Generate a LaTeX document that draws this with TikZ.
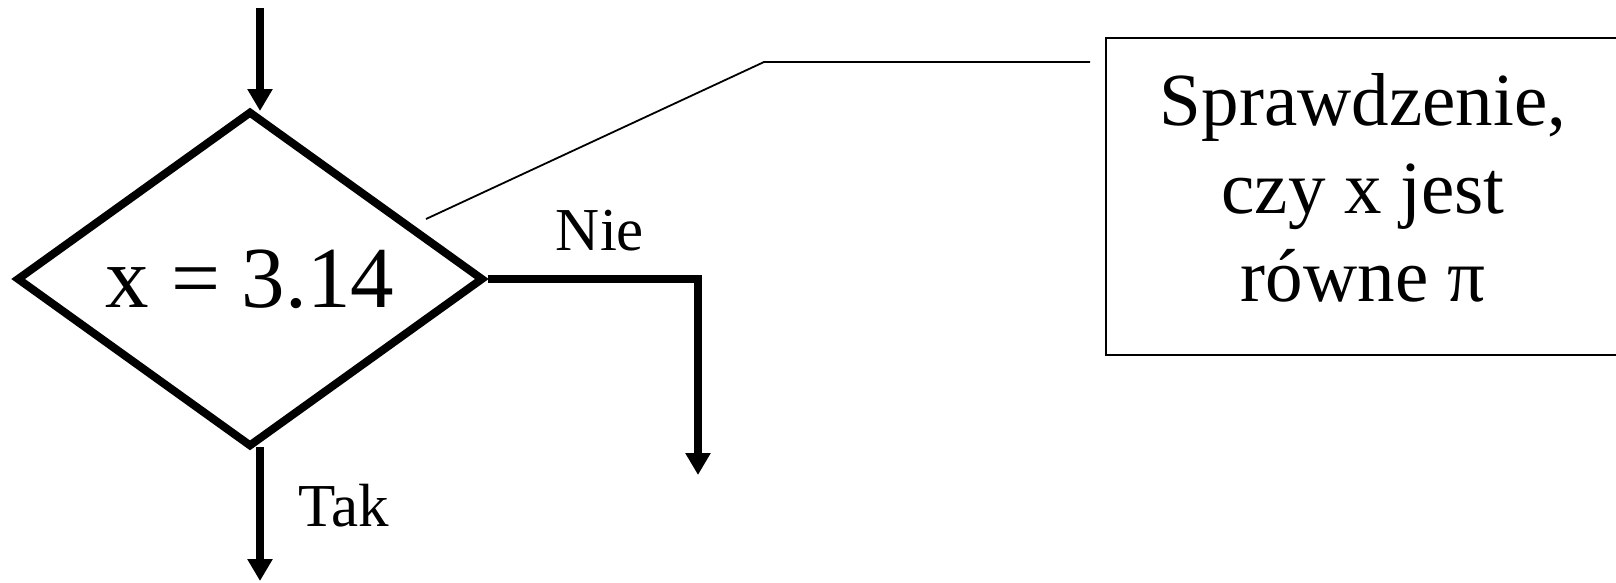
\documentclass[tikz,border=0pt]{standalone}
\usepackage{fontspec}
\setmainfont{Liberation Serif}
\usetikzlibrary{shapes.geometric,arrows.meta}
\tikzset{
  flowarrow/.style={line width=8pt,-{Triangle[length=22pt,width=24pt]}},
  thinline/.style={line width=1.8pt},
  textfont/.style={inner sep=0pt,font=\fontsize{#1}{1.19*#1}\selectfont},
}
\begin{document}
\begin{tikzpicture}[x=1pt,y=-1pt]
\useasboundingbox (0,0) rectangle (1616,582);
\clip (0,0) rectangle (1616,582);
\node[diamond, draw, line width=8pt, aspect=1.39, inner sep=0pt,
      minimum width=467pt, minimum height=336pt,
      font=\fontsize{87}{90}\selectfont] (dec) at (250,279) {x = 3.14};
\coordinate (in) at (260,8);
\coordinate (intip) at (260,111);
\coordinate (outyes) at (260,447);
\coordinate (yestip) at (260,581);
\coordinate (nocorner) at (698,279);
\coordinate (notip) at (698,475);
\draw[flowarrow] (in) -- (intip);
\draw[flowarrow] (outyes) -- (yestip);
\draw[flowarrow] (dec.east) -- (nocorner) -- (notip);
\node[anchor=base, font=\fontsize{61}{66}\selectfont, inner sep=0pt] (nie) at (600,250) {Nie};
\node[anchor=base, font=\fontsize{61}{66}\selectfont, inner sep=0pt] (tak) at (344,526) {Tak};
\node[draw, thinline, rectangle, minimum width=514pt, minimum height=317pt, inner sep=0pt] (box) at (1363,196.5) {};
\node[align=center, inner sep=0pt, font=\fontsize{75}{88}\selectfont] (boxtext) at (1363,188) {Sprawdzenie,\\czy x jest\\równe π};
\coordinate (cs) at (426,219);
\coordinate (cb) at (764,62);
\coordinate (ce) at (1090,62);
\draw[thinline] (cs) -- (cb) -- (ce);
\end{tikzpicture}
\end{document}
